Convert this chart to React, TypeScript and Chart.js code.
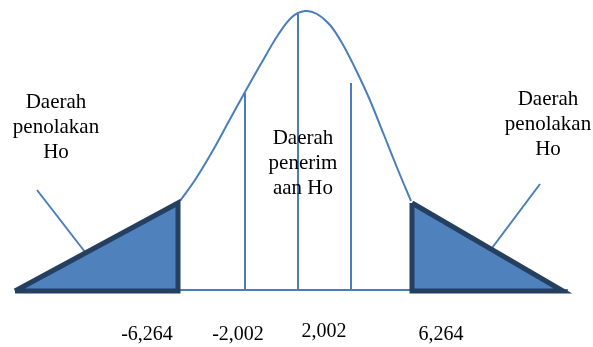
import { useEffect, useRef } from "react";
import { Chart, registerables } from "chart.js";

Chart.register(...registerables);

// Bell curve outline (diagram units, y measured downward)
const curveX = [180, 195, 212, 229, 245, 262, 278, 292, 305, 317, 330, 342, 355, 369, 384, 398, 411];
const curveY = [201, 180, 152, 121, 92, 62, 35, 17, 11, 14, 25, 43, 68, 98, 135, 170, 201];

// Critical-value vertical lines
const vLineX = [245, 298, 351];
const vLineTop = [93, 12, 83];
const baseY = 290;

// Rejection-region triangles
const leftTriX = [15, 178, 178, 15];
const leftTriY = [291, 203, 291, 291];
const rightTriX = [412, 412, 563, 412];
const rightTriY = [203, 291, 291, 203];

// Baseline
const baseX = [15, 568];

// Pointer lines from labels
const leftPtrX = [37, 85];
const leftPtrY = [190, 252];
const rightPtrX = [540, 492];
const rightPtrY = [184, 248];

// Texts
const leftLabel = ["Daerah", "penolakan", "Ho"];
const rightLabel = ["Daerah", "penolakan", "Ho"];
const centerLabel = ["Daerah", "penerim", "aan Ho"];
const tickLabels = ["-6,264", "-2,002", "2,002", "6,264"];

// Anchors for texts (diagram units)
const leftLabelAnchor = { x: 56, y: 108 };
const rightLabelAnchor = { x: 548, y: 105 };
const centerLabelAnchor = { x: 303, y: 144 };
const tickLabelX = [147, 238, 324, 441];
const tickLabelY = [340, 340, 337, 340];

const LINE = "#4A7EBB";
const FILL = "#4F81BD";
const EDGE = "#243F60";

const zip = (xs: number[], ys: number[]) => xs.map((x, i) => ({ x, y: ys[i] }));

const textPlugin = {
  id: "diagramText",
  afterDatasetsDraw(chart: any) {
    const { ctx, scales } = chart;
    const sx = scales.x;
    const sy = scales.y;
    ctx.save();
    ctx.fillStyle = "#000";
    ctx.textAlign = "center";
    ctx.textBaseline = "alphabetic";
    ctx.font = '21px "Liberation Serif", "Times New Roman", "DejaVu Serif", serif';
    const block = (lines: string[], a: { x: number; y: number }) => {
      lines.forEach((t, i) => {
        ctx.fillText(t, sx.getPixelForValue(a.x), sy.getPixelForValue(a.y + i * 25));
      });
    };
    block(leftLabel, leftLabelAnchor);
    block(rightLabel, rightLabelAnchor);
    block(centerLabel, centerLabelAnchor);
    ctx.font = '20px "Liberation Serif", "Times New Roman", "DejaVu Serif", serif';
    tickLabels.forEach((t, i) => {
      ctx.fillText(t, sx.getPixelForValue(tickLabelX[i]), sy.getPixelForValue(tickLabelY[i]));
    });
    ctx.restore();
  },
};

export default function App() {
  const ref = useRef<HTMLCanvasElement>(null);
  useEffect(() => {
    document.body.style.margin = "0";
    if (!ref.current) return;
    const thin = { borderColor: LINE, borderWidth: 2, pointRadius: 0, fill: false, tension: 0 };
    const datasets: any[] = [
      { ...thin, data: zip(baseX, [baseY, baseY]), order: 5 },
      ...vLineX.map((x, i) => ({ ...thin, data: [{ x, y: vLineTop[i] }, { x, y: baseY }], order: 4 })),
      { ...thin, data: zip(curveX, curveY), tension: 0.35, order: 3 },
      { ...thin, data: zip(leftPtrX, leftPtrY), order: 3 },
      { ...thin, data: zip(rightPtrX, rightPtrY), order: 3 },
      {
        data: zip(leftTriX, leftTriY),
        borderColor: EDGE,
        backgroundColor: FILL,
        borderWidth: 5,
        borderJoinStyle: "miter",
        pointRadius: 0,
        fill: "shape",
        tension: 0,
        order: 1,
      },
      {
        data: zip(rightTriX, rightTriY),
        borderColor: EDGE,
        backgroundColor: FILL,
        borderWidth: 5,
        borderJoinStyle: "miter",
        pointRadius: 0,
        fill: "shape",
        tension: 0,
        order: 1,
      },
    ];
    const chart = new Chart(ref.current, {
      type: "line",
      data: { datasets },
      options: {
        animation: false,
        responsive: false,
        maintainAspectRatio: false,
        layout: { padding: 0 },
        scales: {
          x: { type: "linear", min: 0, max: 593, display: false },
          y: { type: "linear", min: 0, max: 347, reverse: true, display: false },
        },
        plugins: { legend: { display: false }, tooltip: { enabled: false } },
      },
      plugins: [textPlugin],
    });
    return () => chart.destroy();
  }, []);
  return (
    <div style={{ width: 593, height: 347, background: "#fff" }}>
      <canvas ref={ref} width={593} height={347} style={{ display: "block" }} />
    </div>
  );
}
